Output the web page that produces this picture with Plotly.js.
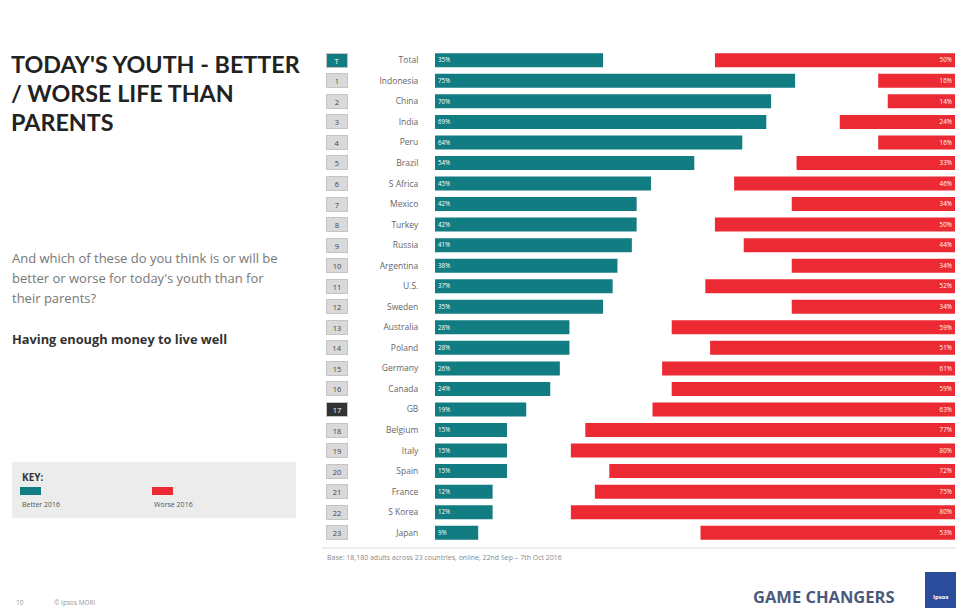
<!DOCTYPE html>
<html>
<head>
<meta charset="utf-8">
<script src="https://cdn.plot.ly/plotly-3.0.1.min.js"></script>
<style>
html,body{margin:0;padding:0;background:#fff;}
#chart{width:956px;height:608px;}
</style>
</head>
<body>
<div id="chart"></div>
<script>
const countries = ["Total","Indonesia","China","India","Peru","Brazil","S Africa","Mexico","Turkey","Russia","Argentina","U.S.","Sweden","Australia","Poland","Germany","Canada","GB","Belgium","Italy","Spain","France","S Korea","Japan"];
const ranks = ["T","1","2","3","4","5","6","7","8","9","10","11","12","13","14","15","16","17","18","19","20","21","22","23"];
const better2016 = [35,75,70,69,64,54,45,42,42,41,38,37,35,28,28,26,24,19,15,15,15,12,12,9];
const worse2016 = [50,16,14,24,16,33,46,34,50,44,34,52,34,59,51,61,59,63,77,80,72,75,80,53];

const TEAL = '#117c82';
const RED = '#ec2a33';
const FULL = 108.3;

const traces = [
  {
    type:'bar', orientation:'h', name:'Better 2016',
    y: countries, x: better2016, xaxis:'x', yaxis:'y',
    marker:{color:TEAL},
    texttemplate:'%{x}%', textposition:'inside', insidetextanchor:'start',
    textfont:{color:'#ffffff', size:7, family:'Open Sans'},
    hoverinfo:'skip'
  },
  {
    type:'bar', orientation:'h', name:'Worse 2016',
    y: countries, x: worse2016, xaxis:'x2', yaxis:'y',
    marker:{color:RED},
    texttemplate:'%{x}%', textposition:'inside', insidetextanchor:'start',
    textfont:{color:'#ffffff', size:7, family:'Open Sans'},
    hoverinfo:'skip'
  }
];

const annotations = [];
countries.forEach((c,i)=>{
  let bg = '#d9d9d9', fc = '#444444';
  if (i===0){ bg = TEAL; fc = '#ffffff'; }
  if (c==='GB'){ bg = '#333333'; fc = '#ffffff'; }
  annotations.push({
    xref:'paper', yref:'y', x:-0.188, y:c, text:ranks[i], showarrow:false,
    bgcolor:bg, bordercolor:'#c4c4c4', borderwidth:1, width:18, height:11,
    font:{size:7.5, color:fc, family:'Open Sans'}, xanchor:'center', yanchor:'middle'
  });
});

function txt(x,y,t,size,color,bold,anchor,fam){
  return {xref:'paper', yref:'paper', x:x, y:y, text: bold?('<b>'+t+'</b>'):t, showarrow:false,
    xanchor:anchor||'left', yanchor:'middle', align:'left',
    font:{size:size, color:color, family:fam||'Open Sans'}};
}
const L=435, R=955, T=50, B=543;
const px = x => (x-L)/(R-L);
const py = y => (B-y)/(B-T);

annotations.push(txt(px(9), py(64), "TODAY'S YOUTH - BETTER", 23.3, '#222', true, 'left', 'Lato'));
annotations.push(txt(px(9), py(93), "/ WORSE LIFE THAN", 23.3, '#222', true, 'left', 'Lato'));
annotations.push(txt(px(9), py(122), "PARENTS", 23.3, '#222', true, 'left', 'Lato'));
annotations.push(txt(px(10), py(258), "And which of these do you think is or will be", 13, '#777', false));
annotations.push(txt(px(10), py(278), "better or worse for today's youth than for", 13, '#777', false));
annotations.push(txt(px(10), py(298), "their parents?", 13, '#777', false));
annotations.push(txt(px(10), py(339), "Having enough money to live well", 12.8, '#333', true));
annotations.push(txt(px(20), py(477), "KEY:", 10, '#333', true));
annotations.push(txt(px(20), py(504), "Better 2016", 7, '#555', false));
annotations.push(txt(px(152), py(504), "Worse 2016", 7, '#555', false));
annotations.push(txt(px(325), py(557), "Base: 18,180 adults across 23 countries, online, 22nd Sep \u2013 7th Oct 2016", 7, '#888', false));
annotations.push(txt(px(14), py(602), "10", 6.5, '#999', false));
annotations.push(txt(px(52), py(602), "\u00a9 Ipsos MORI", 6.5, '#999', false));
annotations.push(txt(px(897), py(596), "GAME CHANGERS", 16.5, '#4a5a7c', true, 'right'));
annotations.push(txt(px(940), py(597), "Ipsos", 6, '#ffffff', true, 'center'));

const shapes = [
  {type:'rect', xref:'paper', yref:'paper', x0:px(12), x1:px(296), y0:py(462), y1:py(518), fillcolor:'#ececec', line:{width:0}, layer:'below'},
  {type:'rect', xref:'paper', yref:'paper', x0:px(20), x1:px(41), y0:py(487), y1:py(495), fillcolor:TEAL, line:{width:0}},
  {type:'rect', xref:'paper', yref:'paper', x0:px(152), x1:px(173), y0:py(487), y1:py(495), fillcolor:RED, line:{width:0}},
  {type:'line', xref:'paper', yref:'paper', x0:px(322), x1:px(956), y0:py(548), y1:py(548), line:{color:'#dddddd', width:1}},
  {type:'rect', xref:'paper', yref:'paper', x0:px(925), x1:px(956), y0:py(572), y1:py(608), fillcolor:'#2b4c9b', line:{width:0}}
];

const layout = {
  width:956, height:608,
  margin:{l:L, r:956-R, t:T, b:608-B, pad:0},
  paper_bgcolor:'#ffffff', plot_bgcolor:'#ffffff',
  barmode:'overlay', bargap:0.32, showlegend:false,
  xaxis:{range:[0,FULL], visible:false, fixedrange:true},
  xaxis2:{range:[FULL,0], overlaying:'x', visible:false, fixedrange:true},
  yaxis:{categoryorder:'array', categoryarray:countries, autorange:'reversed',
    showgrid:false, zeroline:false, showline:false,
    ticks:'outside', ticklen:14, tickcolor:'rgba(0,0,0,0)',
    tickfont:{size:8.5, color:'#666', family:'Open Sans'}},
  annotations: annotations,
  shapes: shapes,
  font:{family:'Open Sans'}
};

Plotly.newPlot('chart', traces, layout, {displayModeBar:false, staticPlot:true});
</script>
</body>
</html>
